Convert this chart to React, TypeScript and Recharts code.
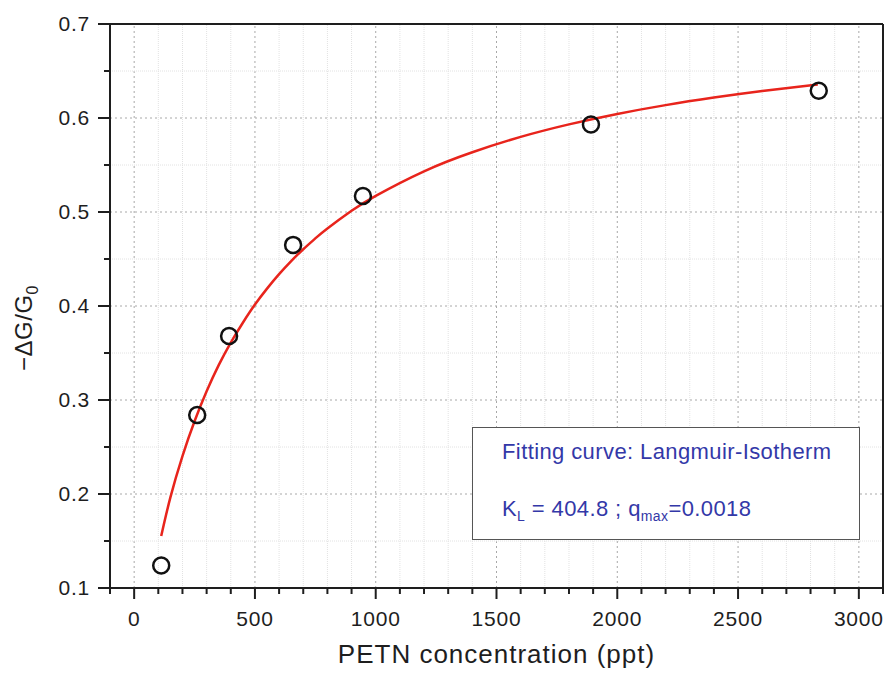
import {
    ComposedChart,
    Line,
    Scatter,
    XAxis,
    YAxis,
    ReferenceLine,
} from 'recharts';

// measured points (PETN concentration in ppt vs -dG/G0)
const concentration = [112, 261, 393, 658, 947, 1891, 2834];
const response = [0.124, 0.284, 0.368, 0.465, 0.517, 0.593, 0.629];

// Langmuir fit
const fitX = [112, 150, 200, 250, 300, 350, 400, 450, 500, 550, 600, 650, 700, 750, 800, 900, 1000, 1200, 1400, 1600, 1800, 2000, 2200, 2400, 2600, 2830];
const fitY = [0.1553, 0.1964, 0.2403, 0.2774, 0.3093, 0.3371, 0.3611, 0.3822, 0.4015, 0.4185, 0.4339, 0.4478, 0.4604, 0.4719, 0.4825, 0.5013, 0.5172, 0.5433, 0.5636, 0.5799, 0.5932, 0.6043, 0.6137, 0.6217, 0.6287, 0.6357];

const xTicks = [-100, 0, 100, 200, 300, 400, 500, 600, 700, 800, 900, 1000, 1100, 1200, 1300, 1400, 1500, 1600, 1700, 1800, 1900, 2000, 2100, 2200, 2300, 2400, 2500, 2600, 2700, 2800, 2900, 3000, 3100];
const yTicks = [0.1, 0.15, 0.2, 0.25, 0.3, 0.35, 0.4, 0.45, 0.5, 0.55, 0.6, 0.65, 0.7];

const legendTitle = 'Fitting curve: Langmuir-Isotherm';

const points = concentration.map((x, i) => ({x, y: response[i]}));
const curve = fitX.map((x, i) => ({x, y: fitY[i]}));

const FONT = "Arial, 'Liberation Sans', sans-serif";
const INK = '#1e1e1e';

const isMajorX = (v: number) => v >= 0 && v <= 3000 && v % 500 === 0;
const isMajorY = (v: number) => Math.round(v * 100) % 10 === 0;

const XTick = ({x, y, payload}: any) => {
    const major = isMajorX(payload.value);
    return (
        <g>
            <line x1={x} x2={x} y1={y} y2={y + (major ? 11 : 6)} stroke={INK} strokeWidth={2}/>
            {major && (
                <text x={x} y={y + 38} textAnchor="middle" fontSize={21} letterSpacing={0.8}
                      fontFamily={FONT} fill={INK}>
                    {payload.value}
                </text>
            )}
        </g>
    );
};

const YTick = ({x, y, payload}: any) => {
    const major = isMajorY(payload.value);
    return (
        <g>
            <line x1={x - (major ? 12 : 6)} x2={x} y1={y} y2={y} stroke={INK} strokeWidth={2}/>
            {major && (
                <text x={x - 20} y={y + 7} textAnchor="end" fontSize={21} letterSpacing={0.8}
                      fontFamily={FONT} fill={INK}>
                    {payload.value.toFixed(1)}
                </text>
            )}
        </g>
    );
};

const YLabel = () => (
    <text transform="translate(32, 328) rotate(-90)" textAnchor="middle" fontSize={24} letterSpacing={0.5}
          fontFamily={FONT} fill={INK}>
        −ΔG/G<tspan fontSize={16} dy={6}>0</tspan>
    </text>
);

export default function App() {
    return (
        <div style={{position: 'absolute', left: 0, top: 0, width: 886, height: 677, background: '#fff', fontFamily: FONT}}>
            <ComposedChart width={886} height={677} margin={{top: 24, right: 3, bottom: 0, left: 0}}>
                {/* grid: light minor lines, dotted major lines */}
                {xTicks.filter(v => v > -100 && v < 3100).map(v => (
                    <ReferenceLine key={'gx' + v} x={v}
                                   stroke={isMajorX(v) ? '#a8a8a8' : '#e2e2e2'}
                                   strokeDasharray={isMajorX(v) ? '2 3' : '1 1'} strokeWidth={1}/>
                ))}
                {yTicks.filter(v => v > 0.1 && v < 0.7).map(v => (
                    <ReferenceLine key={'gy' + v} y={v}
                                   stroke={isMajorY(v) ? '#a8a8a8' : '#e2e2e2'}
                                   strokeDasharray={isMajorY(v) ? '2 3' : '1 1'} strokeWidth={1}/>
                ))}

                <XAxis
                    type="number"
                    dataKey="x"
                    domain={[-100, 3100]}
                    ticks={xTicks}
                    interval={0}
                    height={89}
                    tickSize={0}
                    tickMargin={0}
                    tickLine={false}
                    axisLine={{stroke: INK, strokeWidth: 2}}
                    tick={(p: any) => <XTick {...p}/>}
                    allowDataOverflow
                />
                <YAxis
                    type="number"
                    dataKey="y"
                    domain={[0.1, 0.7]}
                    ticks={yTicks}
                    interval={0}
                    width={110}
                    tickSize={0}
                    tickMargin={0}
                    tickLine={false}
                    axisLine={{stroke: INK, strokeWidth: 2}}
                    tick={(p: any) => <YTick {...p}/>}
                    label={<YLabel/>}
                    allowDataOverflow
                />

                <ReferenceLine y={0.7} stroke={INK} strokeWidth={2}/>
                <ReferenceLine x={3100} stroke={INK} strokeWidth={2}/>

                <Scatter
                    data={points}
                    dataKey="y"
                    isAnimationActive={false}
                    shape={(p: any) => <circle cx={p.cx} cy={p.cy} r={8} fill="none" stroke="#111" strokeWidth={2.5}/>}
                />
                <Line
                    data={curve}
                    dataKey="y"
                    type="natural"
                    stroke="#e8241c"
                    strokeWidth={2.5}
                    dot={false}
                    activeDot={false}
                    isAnimationActive={false}
                />
            </ComposedChart>

            <div style={{
                position: 'absolute', left: 472, top: 427, width: 386, height: 111,
                border: '1.5px solid #555', background: '#fff', color: '#3338a8', fontSize: 22, letterSpacing: 0.4
            }}>
                <div style={{position: 'absolute', left: 29, top: 11, whiteSpace: 'nowrap'}}>{legendTitle}</div>
                <div style={{position: 'absolute', left: 29, top: 68, whiteSpace: 'nowrap'}}>
                    K<sub style={{fontSize: 14}}>L</sub> = 404.8 ; q<sub style={{fontSize: 14}}>max</sub>=0.0018
                </div>
            </div>
            <div style={{
                position: 'absolute', left: 110, width: 773, top: 639, textAlign: 'center',
                fontSize: 26, letterSpacing: 1, color: INK
            }}>
                PETN concentration (ppt)
            </div>
        </div>
    );
}
